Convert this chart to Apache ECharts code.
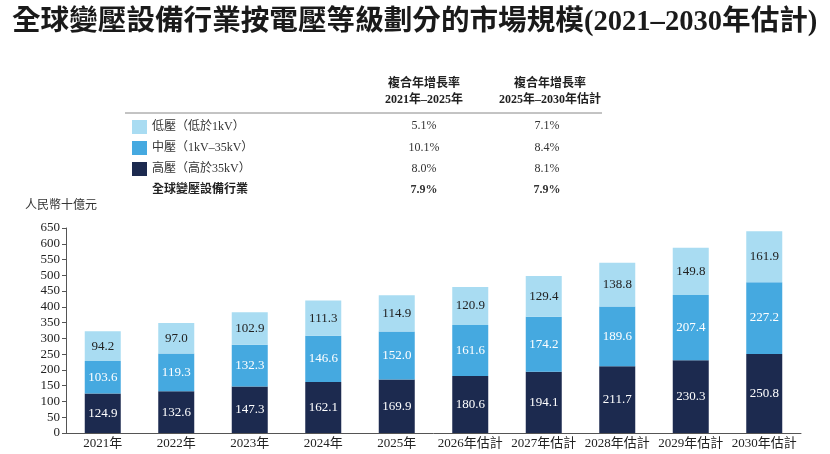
<!DOCTYPE html>
<html lang="zh-Hant">
<head>
    <meta charset="UTF-8">
    <title>全球變壓設備行業按電壓等級劃分的市場規模</title>
    <script src="https://cdn.jsdelivr.net/npm/echarts@6/dist/echarts.min.js"></script>
    <style>
      html, body { margin: 0; padding: 0; background: #fff; }
    </style>
</head>
<body>
    <div id="main" style="width: 830px; height: 454px"></div>
    <script type="text/javascript">

      const years = [
        "2021年", "2022年", "2023年", "2024年", "2025年",
        "2026年估計", "2027年估計", "2028年估計", "2029年估計", "2030年估計"
      ];
      const highVoltage = [124.9, 132.6, 147.3, 162.1, 169.9, 180.6, 194.1, 211.7, 230.3, 250.8];
      const midVoltage = [103.6, 119.3, 132.3, 146.6, 152.0, 161.6, 174.2, 189.6, 207.4, 227.2];
      const lowVoltage = [94.2, 97.0, 102.9, 111.3, 114.9, 120.9, 129.4, 138.8, 149.8, 161.9];
      const totals = [322.7, 348.9, 382.5, 420.0, 436.8, 463.1, 497.7, 540.1, 587.5, 639.9];

      const seriesNames = ["低壓（低於1kV）", "中壓（1kV–35kV）", "高壓（高於35kV）"];
      const cagr2125 = ["5.1%", "10.1%", "8.0%", "7.9%"];
      const cagr2530 = ["7.1%", "8.4%", "8.1%", "7.9%"];

      const serif = '"Liberation Serif", "Noto Sans CJK TC", serif';
      const colors = { low: "#a9dcf2", mid: "#45a9e0", high: "#1c2a4f" };
      const oneDecimal = (p) => Number(p.value).toFixed(1);

      let myChart = echarts.init(document.getElementById("main"));

      // CAGR columns of the little table above the chart
      const rowY = [126, 148, 169, 190];
      let tableText = [];
      rowY.forEach((y, i) => {
        const bold = i === 3 ? "bold" : "normal";
        tableText.push({
          type: "text", x: 424, y: y,
          style: { text: cagr2125[i], font: bold + " 12px " + serif, fill: "#333", align: "center", verticalAlign: "middle" }
        });
        tableText.push({
          type: "text", x: 547, y: y,
          style: { text: cagr2530[i], font: bold + " 12px " + serif, fill: "#333", align: "center", verticalAlign: "middle" }
        });
      });

      let options = {
        animation: false,
        title: {
          text: "全球變壓設備行業按電壓等級劃分的市場規模(2021–2030年估計)",
          left: 7, top: 3,
          textStyle: { fontFamily: serif, fontWeight: "bold", fontSize: 28.6, color: "#1a1a1a" }
        },
        legend: {
          data: seriesNames,
          orient: "vertical",
          left: 127, top: 115,
          itemWidth: 15, itemHeight: 14, itemGap: 7,
          icon: "rect",
          selectedMode: false,
          textStyle: { fontFamily: serif, fontSize: 12, color: "#333" }
        },
        graphic: [
          {
            type: "text", x: 424, y: 92,
            style: { text: "複合年增長率\n2021年–2025年", font: "bold 12px " + serif, fill: "#222", align: "center", verticalAlign: "middle", lineHeight: 16 }
          },
          {
            type: "text", x: 550, y: 92,
            style: { text: "複合年增長率\n2025年–2030年估計", font: "bold 12px " + serif, fill: "#222", align: "center", verticalAlign: "middle", lineHeight: 16 }
          },
          {
            type: "line",
            shape: { x1: 125, y1: 113, x2: 602, y2: 113 },
            style: { stroke: "#888", lineWidth: 1 }
          },
          {
            type: "text", x: 152, y: 190,
            style: { text: "全球變壓設備行業", font: "bold 12px " + serif, fill: "#222", verticalAlign: "middle" }
          }
        ].concat(tableText),
        grid: { left: 66, right: 29, top: 228, bottom: 21 },
        xAxis: {
          type: "category",
          data: years,
          axisLine: { lineStyle: { color: "#555" } },
          axisTick: { show: false },
          axisLabel: { fontFamily: serif, fontSize: 13, color: "#222", margin: 4, interval: 0 }
        },
        yAxis: {
          type: "value",
          name: "人民幣十億元",
          nameLocation: "end",
          nameGap: 16,
          nameTextStyle: { fontFamily: serif, fontSize: 12, color: "#333", align: "center", padding: [0, 0, 0, -10] },
          min: 0, max: 650, interval: 50,
          axisLine: { show: true, lineStyle: { color: "#555" } },
          axisTick: { show: true, length: 4, lineStyle: { color: "#555" } },
          axisLabel: { fontFamily: serif, fontSize: 13, color: "#222", margin: 6 },
          splitLine: { show: false }
        },
        series: [
          {
            name: seriesNames[2], type: "bar", stack: "v", barWidth: 36,
            data: highVoltage,
            itemStyle: { color: colors.high },
            label: { show: true, position: "inside", fontFamily: serif, fontSize: 13, color: "#fff", formatter: oneDecimal }
          },
          {
            name: seriesNames[1], type: "bar", stack: "v", barWidth: 36,
            data: midVoltage,
            itemStyle: { color: colors.mid },
            label: { show: true, position: "inside", fontFamily: serif, fontSize: 13, color: "#fff", formatter: oneDecimal }
          },
          {
            name: seriesNames[0], type: "bar", stack: "v", barWidth: 36,
            data: lowVoltage,
            itemStyle: { color: colors.low },
            label: { show: true, position: "inside", fontFamily: serif, fontSize: 13, color: "#222", formatter: oneDecimal }
          },
          {
            name: "total", type: "line",
            data: totals,
            symbol: "none",
            lineStyle: { opacity: 0 },
            label: {
              show: true, position: "top", distance: 4,
              fontFamily: serif, fontSize: 13, color: "#222",
              formatter: oneDecimal
            }
          }
        ]
      };

      myChart.setOption(options);

    </script>
</body>
</html>
